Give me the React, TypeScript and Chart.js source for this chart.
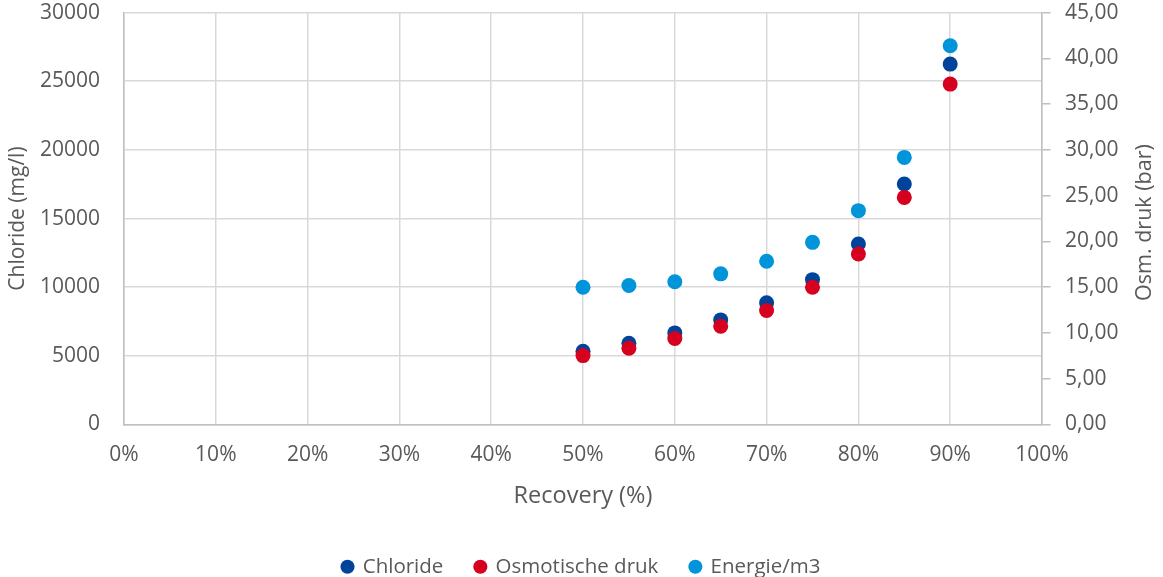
import React, { useEffect, useRef } from "react";
import { Chart, registerables } from "chart.js";

Chart.register(...registerables);

const recovery = [50, 55, 60, 65, 70, 75, 80, 85, 90];
const chloride = [5330, 5920, 6670, 7620, 8860, 10550, 13150, 17520, 26250];
const osmotischeDruk = [7.53, 8.33, 9.39, 10.73, 12.45, 14.99, 18.63, 24.81, 37.19];
const energie = [15.0, 15.18, 15.6, 16.46, 17.84, 19.9, 23.36, 29.18, 41.38];

const seriesNames = ["Chloride", "Osmotische druk", "Energie/m3"];
const xTitle = "Recovery (%)";
const yLeftTitle = "Chloride (mg/l)";
const yRightTitle = "Osm. druk (bar)";

const FONT = "'Open Sans', sans-serif";
const TEXT = "#595959";
const GRID = "#d9d9d9";
const AXIS = "#bfbfbf";

export default function App() {
  const ref = useRef<HTMLCanvasElement | null>(null);

  useEffect(() => {
    if (!ref.current) return;
    const pts = (ys: number[]) => recovery.map((x, i) => ({ x, y: ys[i] }));

    const rightTitlePlugin = {
      id: "rightTitle",
      afterDraw(chart: any) {
        const ctx = chart.ctx;
        const y2 = chart.scales.y2;
        ctx.save();
        ctx.fillStyle = TEXT;
        ctx.font = `21.5px ${FONT}`;
        ctx.textAlign = "center";
        ctx.textBaseline = "middle";
        ctx.translate(1145, (y2.top + y2.bottom) / 2 + 4);
        ctx.rotate(-Math.PI / 2);
        ctx.fillText(yRightTitle, 0, 0);
        ctx.restore();
      },
    };

    const chart = new Chart(ref.current, {
      type: "scatter",
      data: {
        datasets: [
          {
            label: seriesNames[0],
            data: pts(chloride),
            yAxisID: "y",
            backgroundColor: "#00439A",
            borderColor: "#00439A",
            pointRadius: 7.5,
            pointBorderWidth: 0,
            order: 1,
          },
          {
            label: seriesNames[1],
            data: pts(osmotischeDruk),
            yAxisID: "y2",
            backgroundColor: "#D6001F",
            borderColor: "#D6001F",
            pointRadius: 7.5,
            pointBorderWidth: 0,
            order: 0,
          },
          {
            label: seriesNames[2],
            data: pts(energie),
            yAxisID: "y2",
            backgroundColor: "#0095DA",
            borderColor: "#0095DA",
            pointRadius: 7.5,
            pointBorderWidth: 0,
            order: 2,
          },
        ],
      },
      options: {
        animation: false,
        responsive: true,
        maintainAspectRatio: false,
        layout: { padding: { top: 12, bottom: -10, left: 0, right: 0 } },
        plugins: {
          tooltip: { enabled: false },
          legend: {
            position: "bottom",
            labels: {
              usePointStyle: true,
              pointStyle: "circle",
              boxWidth: 10,
              boxHeight: 10,
              padding: 32,
              color: TEXT,
              font: { family: FONT, size: 20.5 },
              sort: (a: any, b: any) => a.datasetIndex - b.datasetIndex,
            },
          },
        },
        scales: {
          x: {
            type: "linear",
            min: 0,
            max: 100,
            afterFit: (s: any) => {
              s.height = 100;
            },
            ticks: {
              stepSize: 10,
              padding: 18,
              color: TEXT,
              font: { family: FONT, size: 21 },
              callback: (v: any) => `${v}%`,
            },
            grid: { color: GRID, lineWidth: 1.5, drawTicks: false },
            border: { color: AXIS, width: 1.5 },
            title: {
              display: true,
              text: xTitle,
              color: TEXT,
              font: { family: FONT, size: 23.5 },
              padding: { top: 0, bottom: 14 },
            },
          },
          y: {
            type: "linear",
            position: "left",
            min: 0,
            max: 30000,
            afterFit: (s: any) => {
              s.width = 124;
            },
            ticks: {
              stepSize: 5000,
              padding: 0,
              color: TEXT,
              font: { family: FONT, size: 21 },
              callback: (v: any) => String(v),
            },
            grid: {
              color: GRID,
              lineWidth: 1.5,
              drawTicks: true,
              tickLength: 24,
              tickColor: "rgba(0,0,0,0)",
            },
            border: { color: AXIS, width: 1.5 },
            title: {
              display: true,
              text: yLeftTitle,
              color: TEXT,
              font: { family: FONT, size: 21 },
              padding: { top: 5, bottom: 0 },
            },
          },
          y2: {
            type: "linear",
            position: "right",
            min: 0,
            max: 45,
            afterFit: (s: any) => {
              s.width = 121;
            },
            ticks: {
              stepSize: 5,
              padding: 0,
              color: TEXT,
              font: { family: FONT, size: 21 },
              callback: (v: any) => Number(v).toFixed(2).replace(".", ","),
            },
            grid: {
              drawOnChartArea: false,
              drawTicks: true,
              tickLength: 23,
              tickBorderDash: [8, 60],
              tickColor: AXIS,
              lineWidth: 1.5,
            },
            border: { color: AXIS, width: 1.5 },
          },
        },
      },
      plugins: [rightTitlePlugin],
    });
    return () => chart.destroy();
  }, []);

  return (
    <div style={{ position: "fixed", left: 0, top: 0, width: 1163, height: 577, background: "#fff" }}>
      <canvas ref={ref} />
    </div>
  );
}
